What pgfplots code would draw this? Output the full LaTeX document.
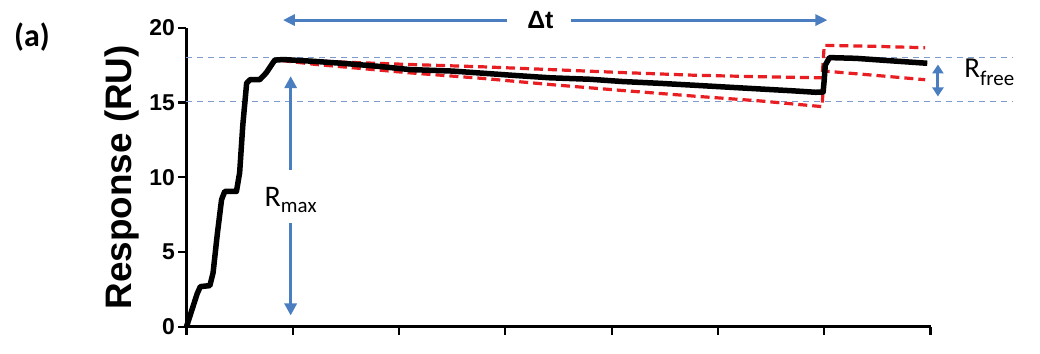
\documentclass[border=0pt]{standalone}
\usepackage{pgfplots}
\pgfplotsset{compat=1.18}
\usepackage{fontspec}
\setmainfont{Liberation Sans}
\newfontfamily\calfont{Carlito}
\usetikzlibrary{arrows.meta}
\definecolor{arrowblue}{RGB}{74,126,193}
\definecolor{dashblue}{RGB}{125,155,205}
\definecolor{bandred}{RGB}{232,30,35}
\begin{document}
\begin{tikzpicture}
\begin{axis}[
  at={(0,0)}, anchor=south west,
  scale only axis, width=744bp, height=299bp,
  xmin=0, xmax=7, ymin=0, ymax=20,
  axis lines*=left,
  axis line style={line width=2.4bp},
  xtick={0,1,...,7}, xticklabels={},
  ytick={0,5,10,15,20},
  tick align=outside, major tick length=8bp,
  tick style={black, line width=2.2bp},
  tick label style={font=\fontsize{23}{23}\selectfont\bfseries},
  /pgf/number format/assume math mode=true,
  ylabel={Response (RU)},
  ylabel style={font=\fontsize{37}{40}\selectfont\bfseries, at={(axis description cs:-0.087,0.5)}, anchor=center},
  clip=false,
]
% reference levels
\addplot[dashblue, line width=1.4bp, dash pattern=on 6bp off 5bp] coordinates {(0,18.0) (7.77,18.0)};
\addplot[dashblue, line width=1.4bp, dash pattern=on 6bp off 5bp] coordinates {(0,15.05) (7.77,15.05)};
% confidence band (upper)
\addplot[bandred, line width=3.2bp, dash pattern=on 9bp off 5bp] coordinates {
 (0.9,17.85) (1.22,17.76) (2.1,17.54) (2.8,17.38) (3.42,17.2) (4.1,17.0) (4.78,16.82) (5.4,16.72) (5.98,16.65)
 (6.0,18.82) (6.5,18.75) (6.95,18.66)};
% confidence band (lower)
\addplot[bandred, line width=3.2bp, dash pattern=on 9bp off 5bp] coordinates {
 (0.9,17.8) (1.22,17.54) (2.1,16.98) (2.8,16.6) (3.42,16.2) (4.1,15.8) (4.78,15.42) (5.4,15.1) (5.98,14.72)
 (6.0,17.1) (6.5,16.8) (6.95,16.52)};
% sensorgram
\addplot[black, line width=5.5bp, line join=round] coordinates {
 (0,0) (0.05,1.1) (0.1,2.2) (0.13,2.68) (0.22,2.75) (0.25,3.6) (0.29,6.2) (0.33,8.5) (0.36,9.05)
 (0.47,9.05) (0.50,10.3) (0.53,13.5) (0.566,16.3) (0.60,16.53) (0.69,16.53) (0.75,16.98)
 (0.83,17.83) (0.91,17.87) (1.2,17.75) (1.5,17.6) (1.8,17.42) (2.1,17.2) (2.5,17.1) (2.8,16.95) (3.1,16.8) (3.42,16.65) (3.8,16.55) (4.1,16.4)
 (4.45,16.28) (4.78,16.15) (5.1,16.02) (5.4,15.9) (5.7,15.78) (5.92,15.68) (5.99,15.7) (6.0,16.5) (6.01,17.5) (6.05,18.0)
 (6.3,17.95) (6.6,17.8) (6.97,17.62)};
% annotation arrows
\draw[arrowblue, line width=3bp, -{Triangle[length=12bp,width=12bp]}] (axis cs:0.98,10.5) -- (axis cs:0.98,16.76);
\draw[arrowblue, line width=3bp, -{Triangle[length=12bp,width=12bp]}] (axis cs:0.98,6.93) -- (axis cs:0.98,0.75);
\draw[arrowblue, line width=3bp, -{Triangle[length=12bp,width=11bp]}] (axis cs:3.02,20.51) -- (axis cs:0.907,20.51);
\draw[arrowblue, line width=3bp, -{Triangle[length=12bp,width=11bp]}] (axis cs:3.62,20.51) -- (axis cs:6.03,20.51);
\draw[arrowblue, line width=3bp, {Triangle[length=9bp,width=11bp]}-{Triangle[length=9bp,width=11bp]}] (axis cs:7.07,17.54) -- (axis cs:7.07,15.4);
% labels
\node[font=\bfseries\fontsize{25}{25}\selectfont, inner sep=0pt] at (axis cs:3.33,20.5) {Δt};
\node[anchor=base, inner sep=0pt, font=\calfont\fontsize{30}{30}\selectfont] at (axis cs:0.98,8.02) {R\raisebox{-6bp}{\fontsize{21}{22}\selectfont max}};
\node[anchor=base west, inner sep=0pt, font=\calfont\fontsize{29}{30}\selectfont] at (axis cs:7.317,16.67) {R\raisebox{-8bp}{\fontsize{21}{22}\selectfont free}};
\end{axis}
\node[font=\calfont\bfseries\fontsize{32}{32}\selectfont, inner sep=0pt] at (-154.5bp,289.7bp) {(a)};
\pgfresetboundingbox
\path[use as bounding box] (-186.5bp,-27.3bp) rectangle (853.5bp,326.7bp);
\end{tikzpicture}
\end{document}
